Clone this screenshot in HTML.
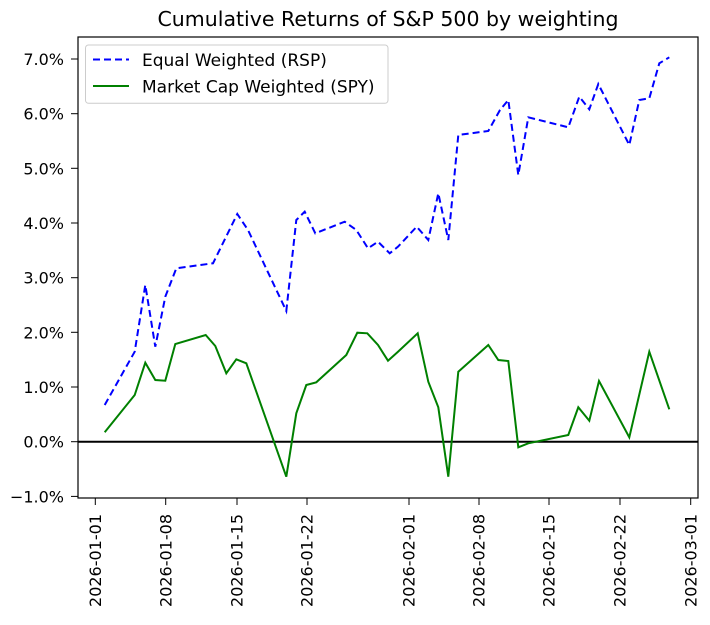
<!DOCTYPE html>
<html><head><meta charset="utf-8"><style>
html,body{margin:0;padding:0;background:#fff;}
svg text{font-family:"DejaVu Sans","Liberation Sans",sans-serif;fill:#000;}
</style></head><body>
<svg width="710" height="620" viewBox="0 0 710 620" xmlns="http://www.w3.org/2000/svg">
<rect width="710" height="620" fill="#fff"/>
<text x="388" y="26" font-size="20.5" text-anchor="middle">Cumulative Returns of S&amp;P 500 by weighting</text>
<line x1="78" y1="441.7" x2="698" y2="441.7" stroke="#000" stroke-width="2"/>
<polyline fill="none" stroke="#0000ff" stroke-width="2" stroke-dasharray="7,4" points="104.7,405 134.7,351.7 145.3,285 155.3,346.7 165.3,296.7 176.3,268.3 213,263.3 237.3,214 248,230 286.3,311 296.3,220 304.7,211.7 315.3,233.3 344.7,221.7 356.3,230 368,248.3 378,241.7 389.7,253.3 398,246.7 416.7,226.7 428.3,240 438.3,193.3 448.3,240 458.3,135 488.3,131 500,110 508.3,100 518.3,175 528.3,117.3 568.3,127.3 579.3,96.7 589.3,109.3 598.3,84 629.3,145 639.3,100 649.3,98.3 659.3,63.3 669.3,57.3"/>
<polyline fill="none" stroke="#008000" stroke-width="2" points="104.7,432.3 134.7,395 145.3,362.7 155.3,380 165.3,380.7 175.3,344 205.7,335 215.3,346 226.3,373.3 236.3,359.3 246.3,363.3 286.3,476.7 296.3,413.3 306.3,385 316.3,382.3 346.3,355 357.3,332.7 367.3,333.3 378,345 388,360.7 398,351.7 417.7,333.3 428.3,381.7 438.3,407.3 448.3,476.7 458.3,371.7 488.3,345 498.3,360 508.3,361 518.3,447.3 528.3,443.3 568.3,435 578.3,407.3 589.3,420.7 599,381 629.3,437.3 649.3,351.7 669.3,409.3"/>
<rect x="78" y="37" width="620" height="461" fill="none" stroke="#000" stroke-width="1.2"/>
<g font-size="16" text-anchor="end">
<g stroke="#000"><line x1="71" y1="59" x2="78" y2="59"/><line x1="71" y1="113.7" x2="78" y2="113.7"/><line x1="71" y1="168.3" x2="78" y2="168.3"/><line x1="71" y1="223" x2="78" y2="223"/><line x1="71" y1="277.7" x2="78" y2="277.7"/><line x1="71" y1="332.3" x2="78" y2="332.3"/><line x1="71" y1="387" x2="78" y2="387"/><line x1="71" y1="441.7" x2="78" y2="441.7"/><line x1="71" y1="496.4" x2="78" y2="496.4"/></g>
<text x="64" y="65">7.0%</text><text x="64" y="119.7">6.0%</text><text x="64" y="174.3">5.0%</text><text x="64" y="229">4.0%</text><text x="64" y="283.7">3.0%</text><text x="64" y="338.3">2.0%</text><text x="64" y="393">1.0%</text><text x="64" y="447.7">0.0%</text><text x="64" y="502.4">−1.0%</text>
</g>
<g stroke="#000"><line x1="95.3" y1="498" x2="95.3" y2="505"/><line x1="165.7" y1="498" x2="165.7" y2="505"/><line x1="237" y1="498" x2="237" y2="505"/><line x1="307" y1="498" x2="307" y2="505"/><line x1="409" y1="498" x2="409" y2="505"/><line x1="479" y1="498" x2="479" y2="505"/><line x1="549" y1="498" x2="549" y2="505"/><line x1="620" y1="498" x2="620" y2="505"/><line x1="690.7" y1="498" x2="690.7" y2="505"/></g>
<g font-size="16" text-anchor="end">
<text transform="translate(101,514) rotate(-90)">2026-01-01</text>
<text transform="translate(171.4,514) rotate(-90)">2026-01-08</text>
<text transform="translate(242.7,514) rotate(-90)">2026-01-15</text>
<text transform="translate(312.7,514) rotate(-90)">2026-01-22</text>
<text transform="translate(414.7,514) rotate(-90)">2026-02-01</text>
<text transform="translate(484.7,514) rotate(-90)">2026-02-08</text>
<text transform="translate(554.7,514) rotate(-90)">2026-02-15</text>
<text transform="translate(625.7,514) rotate(-90)">2026-02-22</text>
<text transform="translate(696.4,514) rotate(-90)">2026-03-01</text>
</g>
<rect x="85.5" y="45" width="302.5" height="58.3" rx="3" fill="#fff" fill-opacity="0.8" stroke="#ccc"/>
<line x1="93" y1="59.5" x2="129" y2="59.5" stroke="#0000ff" stroke-width="2" stroke-dasharray="7,4"/>
<line x1="93" y1="86" x2="129" y2="86" stroke="#008000" stroke-width="2"/>
<text x="142" y="66" font-size="17">Equal Weighted (RSP)</text>
<text x="142" y="92.5" font-size="17">Market Cap Weighted (SPY)</text>
</svg>
</body></html>
